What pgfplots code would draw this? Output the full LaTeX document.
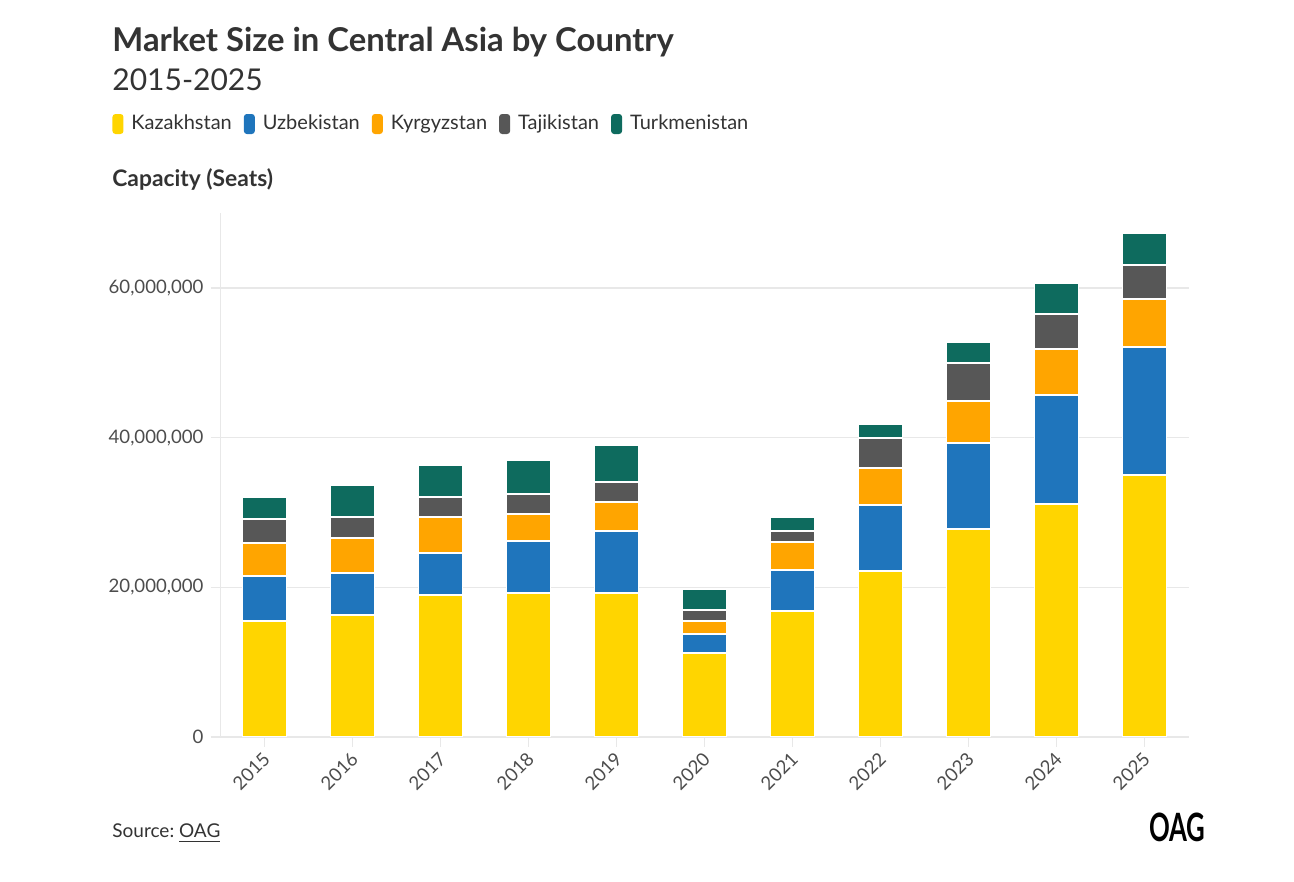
\documentclass[border=0pt]{standalone}
\usepackage{fontspec}
\setmainfont{Lato}
\usepackage{pgfplots}
\pgfplotsset{compat=1.18}
\usepackage{pgfplotstable}

\definecolor{kaz}{HTML}{FFD500}
\definecolor{uzb}{HTML}{1F75BC}
\definecolor{kyr}{HTML}{FFA500}
\definecolor{taj}{HTML}{575757}
\definecolor{tkm}{HTML}{0E6B5E}
\definecolor{txt}{HTML}{333333}
\definecolor{ticktxt}{HTML}{4D4D4D}
\definecolor{gridc}{HTML}{E8E8E8}

% capacity in seats, by year (0 = 2015)
\pgfplotstableread{
x  K         U         Ky       T        Tu
0  15540000  5960000   4470000  3120000  2940000
1  16350000  5570000   4630000  2810000  4360000
2  18930000  5620000   4890000  2660000  4200000
3  19200000  6950000   3690000  2630000  4590000
4  19240000  8330000   3830000  2720000  4940000
5  11180000  2580000   1780000  1430000  2770000
6  16880000  5440000   3740000  1510000  1870000
7  22220000  8740000   5030000  3930000  1910000
8  27760000  11490000  5650000  5040000  2850000
9  31140000  14520000  6150000  4720000  4100000
10 35050000  17030000  6490000  4530000  4300000
}\seats

\begin{document}
\begin{tikzpicture}
\path[use as bounding box] (0,0) rectangle (647pt,441pt);

\node[anchor=base west, inner sep=0pt, text=txt, font=\bfseries\fontsize{16.4}{19}\selectfont]
  at (56pt,415.2pt) {Market Size in Central Asia by Country};
\node[anchor=base west, inner sep=0pt, text=txt, font=\fontsize{15}{18}\selectfont]
  at (56pt,395.5pt) {2015-2025};
\node[anchor=base west, inner sep=0pt, text=txt, font=\bfseries\fontsize{11.4}{13}\selectfont]
  at (56pt,347.7pt) {Capacity (Seats)};
\node[anchor=base west, inner sep=0pt, text=txt, font=\fontsize{9.5}{12}\selectfont]
  at (56pt,22pt) {Source:~\underline{OAG}};
\node[anchor=base east, inner sep=0pt, text=black, font=\bfseries\fontsize{19.5}{21}\selectfont]
  at (603pt,20pt) {\scalebox{0.66}[1]{OAG}};

\begin{axis}[
  at={(110.25pt,72.5pt)}, anchor=south west,
  scale only axis, width=484pt, height=261.9pt,
  ybar stacked, bar width=22pt,
  xmin=-0.5, xmax=10.5, ymin=0, ymax=70000000,
  xtick=data,
  xticklabels={2015,2016,2017,2018,2019,2020,2021,2022,2023,2024,2025},
  ytick={0,20000000,40000000,60000000},
  scaled y ticks=false,
  yticklabel style={/pgf/number format/fixed, /pgf/number format/precision=0,
    /pgf/number format/1000 sep={,}},
  /pgf/number format/assume math mode=true,
  ticklabel style={font=\fontsize{9.3}{11}\selectfont, text=ticktxt},
  xticklabel style={xshift=3.5pt, yshift=-2pt, rotate=45, anchor=east},
  axis lines*=left,
  axis line style={draw=gridc, line width=0.8pt},
  tick align=outside, major tick length=5pt,
  tick style={draw=gridc, line width=0.8pt},
  ymajorgrids, grid style={draw=gridc, line width=0.8pt},
  every axis plot/.append style={draw=white, line width=0.9pt},
  legend style={at={(-0.112,1.1703)}, anchor=west, draw=none, fill=none,
    inner sep=0pt, font=\fontsize{10}{12}\selectfont, text=txt,
    legend columns=5,
    /tikz/every even column/.append style={column sep=2pt},
    nodes={inner xsep=4pt}},
  legend image code/.code={\fill[#1, draw=none, rounded corners=1.5pt] (0pt,-5pt) rectangle (5.5pt,5pt);},
]
\addplot[fill=kaz] table[x=x, y=K] {\seats};
\addplot[fill=uzb] table[x=x, y=U] {\seats};
\addplot[fill=kyr] table[x=x, y=Ky] {\seats};
\addplot[fill=taj] table[x=x, y=T] {\seats};
\addplot[fill=tkm] table[x=x, y=Tu] {\seats};
\legend{Kazakhstan, Uzbekistan, Kyrgyzstan, Tajikistan, Turkmenistan}
\end{axis}
\end{tikzpicture}
\end{document}
